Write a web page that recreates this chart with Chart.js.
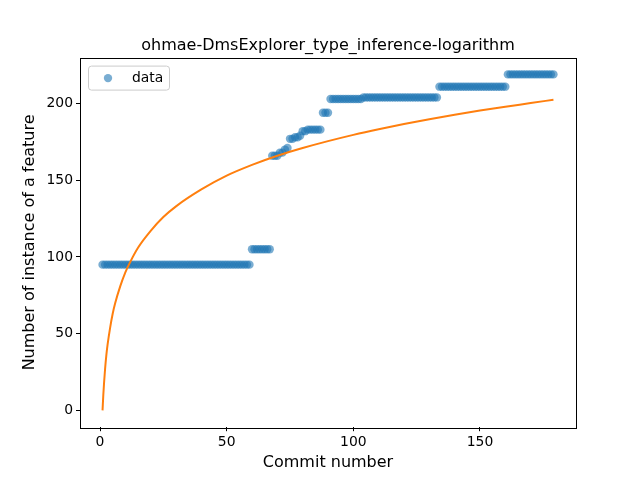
<!DOCTYPE html>
<html><head><meta charset="utf-8">
<script src="https://cdn.jsdelivr.net/npm/chart.js@4/dist/chart.umd.min.js"></script>
<style>html,body{margin:0;padding:0;background:#fff;}canvas{display:block;}</style>
</head><body>
<canvas id="c" width="640" height="480"></canvas>
<script>
const chartTitle = "ohmae-DmsExplorer_type_inference-logarithm";
const xLabel = "Commit number";
const yLabel = "Number of instance of a feature";
const legendLabel = "data";
const xTicks = [0, 50, 100, 150];
const yTicks = [0, 50, 100, 150, 200];
// observed values for commits 1..179
const dataValues = [
 95,95,95,95,95,95,95,95,95,95, 95,95,95,95,95,95,95,95,95,95,
 95,95,95,95,95,95,95,95,95,95, 95,95,95,95,95,95,95,95,95,95,
 95,95,95,95,95,95,95,95,95,95, 95,95,95,95,95,95,95,95,95,
 105,105,105,105,105,105,105,105,
 166,166,166,168,168,170,171,177,177,178,178,179,182,182,
 183,183,183,183,183,183,194,194,194,
 203,203,203,203,203,203,203,203,203,203,203,203,203,
 204,204,204,204,204,204,204,204,204,204,204,204,204,204,204,
 204,204,204,204,204,204,204,204,204,204,204,204,204,204,204,
 211,211,211,211,211,211,211,211,211,211,211,211,211,211,
 211,211,211,211,211,211,211,211,211,211,211,211,211,
 219,219,219,219,219,219,219,219,219,219,219,219,219,219,219,219,219,219,219
];
// fitted logarithm curve
const fitX = [1,1.3,1.6,2,2.5,3,4,5,6,8,10,12,15,20,25,30,40,50,60,70,80,90,100,110,120,130,140,150,160,170,179];
const fitY = [0,10,18,27,36,43,54,63,70,81,90,97,106,117,126,133,144,153,160,166,171,175.5,179.6,183.3,186.7,189.8,192.7,195.4,197.9,200.3,202.5];

const scatterPts = dataValues.map((v, i) => ({x: i + 1, y: v}));
const fitPts = fitX.map((x, i) => ({x: x, y: fitY[i]}));

const FONT = "'DejaVu Sans', sans-serif";

const framePlugin = {
  id: 'frame',
  afterDatasetsDraw(chart) {
    const ctx = chart.ctx, a = chart.chartArea;
    ctx.save();
    ctx.strokeStyle = '#000';
    ctx.lineWidth = 1;
    ctx.strokeRect(Math.round(a.left) + 0.5, Math.round(a.top) + 0.5, Math.round(a.right - a.left), Math.round(a.bottom - a.top));
    // title
    ctx.fillStyle = '#000';
    ctx.font = "16px " + FONT;
    ctx.textAlign = 'center';
    ctx.textBaseline = 'alphabetic';
    ctx.fillText(chartTitle, (a.left + a.right) / 2, a.top - 8);
    // legend
    const lx = a.left + 8, ly = a.top + 8, lw = 81, lh = 24;
    ctx.fillStyle = 'rgba(255,255,255,0.8)';
    ctx.strokeStyle = '#cccccc';
    ctx.beginPath();
    if (ctx.roundRect) ctx.roundRect(lx + 0.5, ly + 0.5, lw, lh, 3); else ctx.rect(lx + 0.5, ly + 0.5, lw, lh);
    ctx.fill(); ctx.stroke();
    ctx.fillStyle = 'rgba(31,119,180,0.6)';
    ctx.beginPath();
    ctx.arc(lx + 20, ly + 12.5, 4.2, 0, Math.PI * 2);
    ctx.fill();
    ctx.fillStyle = '#000';
    ctx.font = "13.9px " + FONT;
    ctx.textAlign = 'left';
    ctx.textBaseline = 'middle';
    ctx.fillText(legendLabel, lx + 44, ly + 12.5);
    ctx.restore();
  }
};

new Chart(document.getElementById('c'), {
  data: {
    datasets: [
      {
        type: 'scatter',
        label: legendLabel,
        data: scatterPts,
        backgroundColor: 'rgba(31,119,180,0.6)',
        borderWidth: 0,
        pointRadius: 4.2,
        pointHoverRadius: 4.2,
        order: 1
      },
      {
        type: 'line',
        label: 'fit',
        data: fitPts,
        borderColor: '#ff7f0e',
        borderWidth: 2,
        pointRadius: 0,
        fill: false,
        cubicInterpolationMode: 'monotone',
        order: 0
      }
    ]
  },
  options: {
    responsive: false,
    devicePixelRatio: 1,
    animation: false,
    layout: {padding: {top: 57.6, right: 64, left: 0, bottom: 0}},
    plugins: {legend: {display: false}, title: {display: false}, tooltip: {enabled: false}},
    scales: {
      x: {
        type: 'linear',
        min: -7.9, max: 187.9,
        afterBuildTicks(s) { s.ticks = xTicks.map(v => ({value: v})); },
        afterFit(s) { s.height = 52.8; },
        grid: {display: true, drawOnChartArea: false, drawTicks: true, tickLength: 4, color: '#000', tickColor: '#000'},
        border: {display: false},
        ticks: {color: '#000', font: {family: FONT, size: 13.9}, padding: 3, maxRotation: 0},
        title: {display: true, text: xLabel, color: '#000', font: {family: FONT, size: 16}, padding: {top: 2, bottom: 7.4}}
      },
      y: {
        type: 'linear',
        min: -10.95, max: 229.95,
        afterBuildTicks(s) { s.ticks = yTicks.map(v => ({value: v})); },
        afterFit(s) { s.width = 80; },
        grid: {display: true, drawOnChartArea: false, drawTicks: true, tickLength: 4, color: '#000', tickColor: '#000'},
        border: {display: false},
        ticks: {color: '#000', font: {family: FONT, size: 13.9}, padding: 3},
        title: {display: true, text: yLabel, color: '#000', font: {family: FONT, size: 16}, padding: {top: 20.4, bottom: 4}}
      }
    }
  },
  plugins: [framePlugin]
});
</script>
</body></html>
